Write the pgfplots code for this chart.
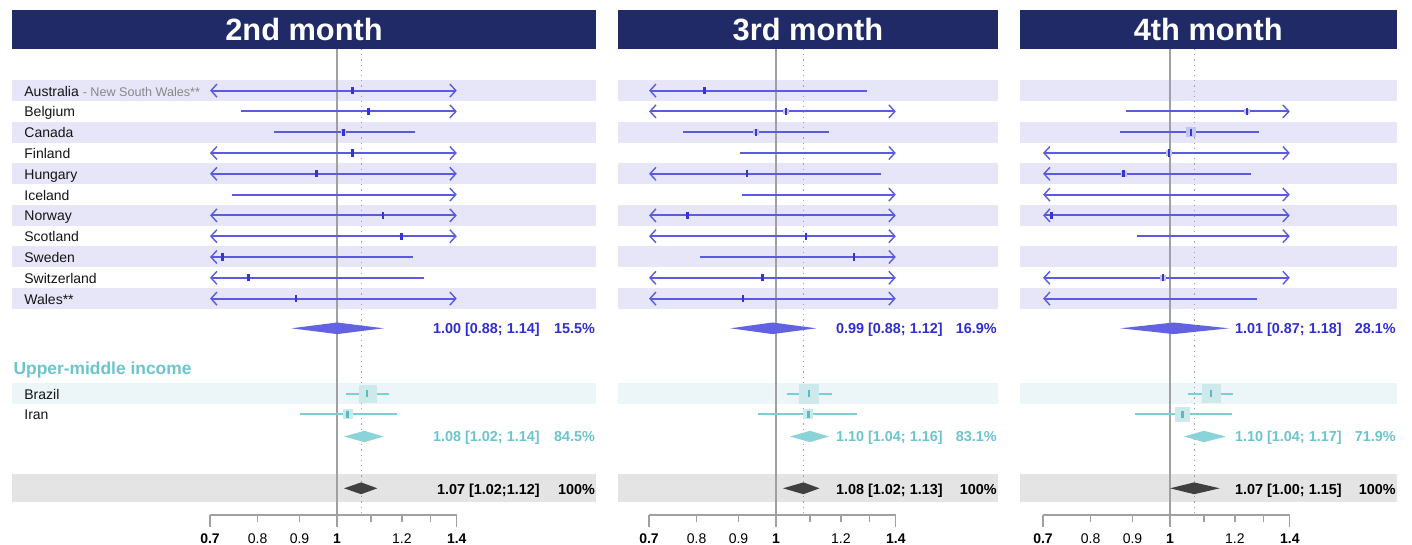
\documentclass[border=0pt]{standalone}
\usepackage{fontspec}
\setmainfont{Liberation Sans}
\usepackage{pgfplots}
\pgfplotsset{compat=1.18}
\usetikzlibrary{arrows.meta}

\definecolor{hdr}{HTML}{1F2A66}
\definecolor{bandB}{HTML}{E6E6F8}
\definecolor{bandT}{HTML}{ECF6F8}
\definecolor{bandG}{HTML}{E4E4E4}
\definecolor{lineB}{HTML}{5B5BE0}
\definecolor{markB}{HTML}{3535D5}
\definecolor{txtB}{HTML}{2F2FCF}
\definecolor{diaB}{HTML}{6262E2}
\definecolor{sqB}{HTML}{C5C5F2}
\definecolor{lineT}{HTML}{7DCDD5}
\definecolor{markT}{HTML}{5BBAC4}
\definecolor{txtT}{HTML}{6CC4CD}
\definecolor{diaT}{HTML}{8AD3D9}
\definecolor{sqT}{HTML}{CDE9EC}
\definecolor{refl}{HTML}{A0A0A0}
\definecolor{diaG}{HTML}{404040}
\definecolor{subg}{HTML}{888888}

\newcommand\myfs{\fontsize{7}{8.4}\selectfont}
\newcommand\myfsb{\fontsize{7.2}{8.6}\selectfont\bfseries}

\pgfplotsset{
  ciBst/.style={color=lineB, line width=1pt, >={Straight Barb[length=3pt,width=6.5pt,line width=0.7pt]}},
  ciTst/.style={color=lineT, line width=1pt},
  estB/.style={only marks, mark=|, mark size=1.8pt, mark options={line width=1.2pt, color=markB}},
  estT/.style={only marks, mark=|, mark size=1.8pt, mark options={line width=1.2pt, color=markT}},
}

\newcommand\bandrow[3]{\fill[#3] ([xshift=\pnL]axis cs:0.7,-#1) rectangle ([xshift=\pnR]axis cs:1.4,-#2);}
\newcommand\ciB[4][]{\addplot[ciBst,#1] coordinates {(#3,-#2) (#4,-#2)};}
\newcommand\ciT[3]{\addplot[ciTst] coordinates {(#2,-#1) (#3,-#1)};}
\newcommand\panelbg[1]{%
  \bandrow{10}{49}{hdr}
  \node[anchor=base, inner sep=0pt, text=white, font=\fontsize{15.4}{18}\selectfont\bfseries] at ([xshift=\pnC]axis cs:1,-40.7) {#1};
  \bandrow{80.1}{101.1}{bandB}
  \bandrow{121.7}{142.7}{bandB}
  \bandrow{163.3}{184.3}{bandB}
  \bandrow{204.9}{225.9}{bandB}
  \bandrow{246.5}{267.5}{bandB}
  \bandrow{288.1}{309.1}{bandB}
  \bandrow{383.3}{404.3}{bandT}
  \bandrow{474}{502}{bandG}
}
\newcommand\reflines[1]{%
  \addplot[color=refl, line width=0.75pt] coordinates {(1,-49) (1,-515)};
  \addplot[color=refl, dotted, line width=0.6pt] coordinates {(#1,-49) (#1,-515)};
}
\newcommand\sumtexts[6]{%
  \node[anchor=base east, inner sep=0pt, font=\myfsb, text=txtB] at ([xshift=\pnTA]axis cs:1.4,-333.3) {#1};
  \node[anchor=base east, inner sep=0pt, font=\myfsb, text=txtB] at ([xshift=\pnTB]axis cs:1.4,-333.3) {#2};
  \node[anchor=base east, inner sep=0pt, font=\myfsb, text=txtT] at ([xshift=\pnTA]axis cs:1.4,-441.7) {#3};
  \node[anchor=base east, inner sep=0pt, font=\myfsb, text=txtT] at ([xshift=\pnTB]axis cs:1.4,-441.7) {#4};
  \node[anchor=base east, inner sep=0pt, font=\myfsb, text=black] at ([xshift=\pnTA]axis cs:1.4,-494.5) {#5};
  \node[anchor=base east, inner sep=0pt, font=\myfsb, text=black] at ([xshift=\pnTB]axis cs:1.4,-494.5) {#6};
}
\newcommand\rowlab[2]{\node[anchor=base west, inner sep=0pt, font=\myfs, text=black!92] at ([xshift=-93pt]axis cs:0.7,-#1) {#2};}

\begin{document}
\begin{tikzpicture}
\useasboundingbox (0,0) rectangle (706pt,272.5pt);

% ---------------- 2nd month ----------------
\def\pnL{-99pt}\def\pnR{69.6pt}\def\pnC{-16.5pt}\def\pnTA{41.6pt}\def\pnTB{69.3pt}
\begin{axis}[at={(105pt,15pt)}, anchor=south west,
    xmode=log, xmin=0.7, xmax=1.4, ymin=-515, ymax=-49,
    width=123.4pt, height=233pt, scale only axis, clip=false,
    axis x line*=bottom, axis y line=none,
    xtick={0.7,1,1.4}, xticklabels={\textbf{0.7},\textbf{1},\textbf{1.4}},
    extra x ticks={0.8,0.9,1.2}, extra x tick labels={0.8,0.9,1.2},
    extra x tick style={major tick length=3.5pt, tick label style={yshift=-2.5pt}},
    minor xtick={1.1,1.3},
    tick align=outside, major tick length=6pt, minor tick length=3.5pt,
    x axis line style={color=refl, line width=0.6pt},
    every tick/.style={color=refl, line width=0.6pt},
    tick label style={font=\myfs, text=black}]
\panelbg{2nd month}
\reflines{1.07}
% squares
\addplot[only marks, mark=square*, mark size=1.2pt, color=sqB] coordinates {(1.018,-132.2)};
\addplot[only marks, mark=square*, mark size=4.25pt, color=sqT] coordinates {(1.09,-393.8)};
\addplot[only marks, mark=square*, mark size=2.25pt, color=sqT] coordinates {(1.030,-414.2)};
% confidence intervals
\ciB[<->]{90.6}{0.7}{1.4}
\ciB[->]{111.4}{0.764}{1.4}
\ciB{132.2}{0.838}{1.245}
\ciB[<->]{153.0}{0.7}{1.4}
\ciB[<->]{173.8}{0.7}{1.4}
\ciB[->]{194.6}{0.745}{1.4}
\ciB[<->]{215.4}{0.7}{1.4}
\ciB[<->]{236.2}{0.7}{1.4}
\ciB[<-]{257.0}{0.7}{1.237}
\ciB[<-]{277.8}{0.7}{1.276}
\ciB[<->]{298.6}{0.7}{1.4}
\addplot[estB] coordinates {(1.045,-90.6) (1.093,-111.4) (1.018,-132.2) (1.045,-153.0) (0.944,-173.8) (1.137,-215.4) (1.199,-236.2) (0.725,-257.0) (0.780,-277.8) (0.891,-298.6)};
\ciT{393.8}{1.026}{1.158}
\ciT{414.2}{0.901}{1.182}
\addplot[estT] coordinates {(1.087,-393.8) (1.030,-414.2)};
% diamonds
\addplot[fill=diaB, draw=none] coordinates {(0.88,-328.3) (1.00,-322.5) (1.14,-328.3) (1.00,-334.1)};
\addplot[fill=diaT, draw=none] coordinates {(1.02,-436.5) (1.08,-430.8) (1.14,-436.5) (1.08,-442.2)};
\addplot[fill=diaG, draw=none] coordinates {(1.02,-488.3) (1.07,-482.4) (1.12,-488.3) (1.07,-494.2)};
% labels
\rowlab{96.1}{Australia {\fontsize{6.3}{8}\selectfont\color{subg} - New South Wales**}}
\rowlab{116.9}{Belgium}
\rowlab{137.7}{Canada}
\rowlab{158.5}{Finland}
\rowlab{179.3}{Hungary}
\rowlab{200.1}{Iceland}
\rowlab{220.9}{Norway}
\rowlab{241.7}{Scotland}
\rowlab{262.5}{Sweden}
\rowlab{283.3}{Switzerland}
\rowlab{304.1}{Wales**}
\node[anchor=base west, inner sep=0pt, font=\fontsize{8.7}{10}\selectfont\bfseries, text=txtT] at ([xshift=-98.4pt]axis cs:0.7,-374.3) {Upper-middle income};
\rowlab{399.3}{Brazil}
\rowlab{419.7}{Iran}
\sumtexts{1.00 [0.88; 1.14]}{15.5\%}{1.08 [1.02; 1.14]}{84.5\%}{1.07 [1.02;1.12]}{100\%}
\end{axis}

% ---------------- 3rd month ----------------
\def\pnL{-15.65pt}\def\pnR{51.25pt}\def\pnC{16pt}\def\pnTA{23.6pt}\def\pnTB{50.6pt}
\begin{axis}[at={(324.5pt,15pt)}, anchor=south west,
    xmode=log, xmin=0.7, xmax=1.4, ymin=-515, ymax=-49,
    width=123.4pt, height=233pt, scale only axis, clip=false,
    axis x line*=bottom, axis y line=none,
    xtick={0.7,1,1.4}, xticklabels={\textbf{0.7},\textbf{1},\textbf{1.4}},
    extra x ticks={0.8,0.9,1.2}, extra x tick labels={0.8,0.9,1.2},
    extra x tick style={major tick length=3.5pt, tick label style={yshift=-2.5pt}},
    minor xtick={1.1,1.3},
    tick align=outside, major tick length=6pt, minor tick length=3.5pt,
    x axis line style={color=refl, line width=0.6pt},
    every tick/.style={color=refl, line width=0.6pt},
    tick label style={font=\myfs, text=black}]
\panelbg{3rd month}
\reflines{1.08}
\addplot[only marks, mark=square*, mark size=1.2pt, color=sqB] coordinates {(1.028,-111.4) (0.945,-132.2)};
\addplot[only marks, mark=square*, mark size=4.75pt, color=sqT] coordinates {(1.097,-393.8)};
\addplot[only marks, mark=square*, mark size=2.25pt, color=sqT] coordinates {(1.095,-414.2)};
\ciB[<-]{90.6}{0.7}{1.29}
\ciB[<->]{111.4}{0.7}{1.4}
\ciB{132.2}{0.771}{1.16}
\ciB[->]{153.0}{0.904}{1.4}
\ciB[<-]{173.8}{0.7}{1.342}
\ciB[->]{194.6}{0.91}{1.4}
\ciB[<->]{215.4}{0.7}{1.4}
\ciB[<->]{236.2}{0.7}{1.4}
\ciB[->]{257.0}{0.808}{1.4}
\ciB[<->]{277.8}{0.7}{1.4}
\ciB[<->]{298.6}{0.7}{1.4}
\addplot[estB] coordinates {(0.818,-90.6) (1.028,-111.4) (0.945,-132.2) (0.921,-173.8) (0.780,-215.4) (1.087,-236.2) (1.244,-257.0) (0.963,-277.8) (0.911,-298.6)};
\ciT{393.8}{1.030}{1.169}
\ciT{414.2}{0.951}{1.254}
\addplot[estT] coordinates {(1.097,-393.8) (1.095,-414.2)};
\addplot[fill=diaB, draw=none] coordinates {(0.88,-328.3) (0.99,-322.5) (1.12,-328.3) (0.99,-334.1)};
\addplot[fill=diaT, draw=none] coordinates {(1.04,-436.5) (1.10,-430.8) (1.16,-436.5) (1.10,-442.2)};
\addplot[fill=diaG, draw=none] coordinates {(1.02,-488.3) (1.08,-482.4) (1.13,-488.3) (1.08,-494.2)};
\sumtexts{0.99 [0.88; 1.12]}{16.9\%}{1.10 [1.04; 1.16]}{83.1\%}{1.08 [1.02; 1.13]}{100\%}
\end{axis}

% ---------------- 4th month ----------------
\def\pnL{-11.75pt}\def\pnR{53.6pt}\def\pnC{19.1pt}\def\pnTA{26.1pt}\def\pnTB{53.1pt}
\begin{axis}[at={(521.5pt,15pt)}, anchor=south west,
    xmode=log, xmin=0.7, xmax=1.4, ymin=-515, ymax=-49,
    width=123.4pt, height=233pt, scale only axis, clip=false,
    axis x line*=bottom, axis y line=none,
    xtick={0.7,1,1.4}, xticklabels={\textbf{0.7},\textbf{1},\textbf{1.4}},
    extra x ticks={0.8,0.9,1.2}, extra x tick labels={0.8,0.9,1.2},
    extra x tick style={major tick length=3.5pt, tick label style={yshift=-2.5pt}},
    minor xtick={1.1,1.3},
    tick align=outside, major tick length=6pt, minor tick length=3.5pt,
    x axis line style={color=refl, line width=0.6pt},
    every tick/.style={color=refl, line width=0.6pt},
    tick label style={font=\myfs, text=black}]
\panelbg{4th month}
\reflines{1.07}
\addplot[only marks, mark=square*, mark size=1.2pt, color=sqB] coordinates {(1.241,-111.4) (0.997,-153.0) (0.878,-173.8) (0.980,-277.8)};
\addplot[only marks, mark=square*, mark size=2.3pt, color=sqB] coordinates {(1.06,-132.2)};
\addplot[only marks, mark=square*, mark size=4.5pt, color=sqT] coordinates {(1.122,-393.8)};
\addplot[only marks, mark=square*, mark size=3.5pt, color=sqT] coordinates {(1.036,-414.2)};
\ciB[->]{111.4}{0.884}{1.4}
\ciB{132.2}{0.869}{1.283}
\ciB[<->]{153.0}{0.7}{1.4}
\ciB[<-]{173.8}{0.7}{1.254}
\ciB[<->]{194.6}{0.7}{1.4}
\ciB[<->]{215.4}{0.7}{1.4}
\ciB[->]{236.2}{0.911}{1.4}
\ciB[<->]{277.8}{0.7}{1.4}
\ciB[<-]{298.6}{0.7}{1.276}
\addplot[estB] coordinates {(1.241,-111.4) (1.06,-132.2) (0.997,-153.0) (0.878,-173.8) (0.717,-215.4) (0.980,-277.8)};
\ciT{393.8}{1.053}{1.192}
\ciT{414.2}{0.906}{1.189}
\addplot[estT] coordinates {(1.122,-393.8) (1.036,-414.2)};
\addplot[fill=diaB, draw=none] coordinates {(0.87,-328.3) (1.01,-322.5) (1.18,-328.3) (1.01,-334.1)};
\addplot[fill=diaT, draw=none] coordinates {(1.04,-436.5) (1.10,-430.8) (1.17,-436.5) (1.10,-442.2)};
\addplot[fill=diaG, draw=none] coordinates {(1.00,-488.3) (1.07,-482.4) (1.15,-488.3) (1.07,-494.2)};
\sumtexts{1.01 [0.87; 1.18]}{28.1\%}{1.10 [1.04; 1.17]}{71.9\%}{1.07 [1.00; 1.15]}{100\%}
\end{axis}
\end{tikzpicture}
\end{document}
